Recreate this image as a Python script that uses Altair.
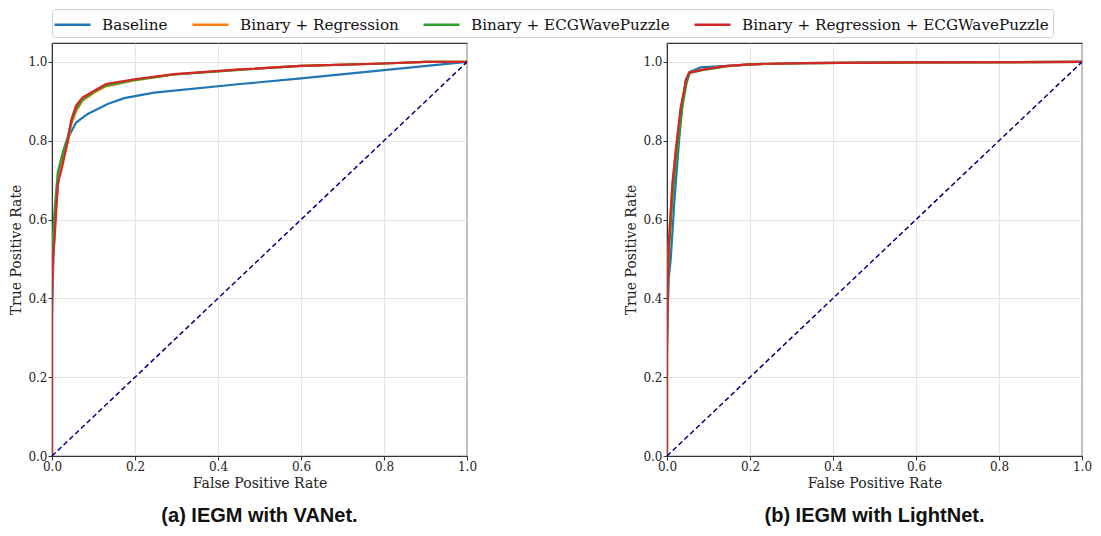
import altair as alt
import pandas as pd

SERIES = ["Baseline", "Binary + Regression", "Binary + ECGWavePuzzle", "Binary + Regression + ECGWavePuzzle"]
COLORS = ["#1f77b4", "#ff7f0e", "#2ca02c", "#d62728"]

# (a) VANet
va_base_fpr = [0, 0.0, 0.002, 0.005, 0.01, 0.018, 0.03, 0.04, 0.058, 0.086, 0.134, 0.174, 0.246, 0.454, 0.6, 0.8, 1.0]
va_base_tpr = [0, 0.35, 0.45, 0.55, 0.64, 0.73, 0.783, 0.81, 0.846, 0.868, 0.893, 0.908, 0.922, 0.944, 0.958, 0.979, 1.0]
va_fpr = [0, 0, 0.002, 0.006, 0.014, 0.026, 0.038, 0.046, 0.058, 0.074, 0.102, 0.13, 0.198, 0.294, 0.454, 0.6, 0.8, 0.9, 1.0]
va_reg_tpr = [0, 0.42, 0.52, 0.60, 0.70, 0.75, 0.795, 0.84, 0.875, 0.902, 0.922, 0.938, 0.953, 0.968, 0.981, 0.99, 0.996, 1.0, 1.0]
va_puz_tpr = [0, 0.45, 0.55, 0.62, 0.72, 0.77, 0.81, 0.845, 0.88, 0.905, 0.925, 0.94, 0.954, 0.968, 0.98, 0.99, 0.996, 1.0, 1.0]
va_all_tpr = [0, 0.40, 0.50, 0.547, 0.69, 0.741, 0.80, 0.851, 0.889, 0.910, 0.927, 0.944, 0.956, 0.969, 0.981, 0.99, 0.996, 1.0, 1.0]

# (b) LightNet
ln_base_fpr = [0, 0, 0.004, 0.009, 0.018, 0.029, 0.038, 0.045, 0.055, 0.081, 0.145, 0.2, 0.33, 0.6, 1.0]
ln_base_tpr = [0, 0.30, 0.45, 0.50, 0.65, 0.80, 0.90, 0.955, 0.975, 0.986, 0.99, 0.994, 0.997, 0.999, 1.0]
ln_puz_fpr = [0, 0, 0.003, 0.006, 0.015, 0.024, 0.036, 0.047, 0.055, 0.09, 0.145, 0.2, 0.33, 0.6, 1.0]
ln_fpr = [0, 0, 0.002, 0.0048, 0.013, 0.021, 0.033, 0.045, 0.053, 0.089, 0.145, 0.201, 0.329, 0.6, 1.0]
ln_reg_tpr = [0, 0.28, 0.46, 0.55, 0.69, 0.77, 0.88, 0.945, 0.972, 0.981, 0.989, 0.994, 0.997, 0.999, 1.0]
ln_puz_tpr = [0, 0.27, 0.45, 0.54, 0.68, 0.77, 0.88, 0.946, 0.972, 0.980, 0.989, 0.994, 0.997, 0.999, 1.0]
ln_all_tpr = [0, 0.25, 0.45, 0.547, 0.69, 0.775, 0.884, 0.948, 0.973, 0.981, 0.990, 0.994, 0.997, 0.999, 1.0]

diag = [0.0, 1.0]


def frame(panel, series, fpr, tpr):
    return pd.DataFrame({"panel": panel, "series": series, "fpr": fpr, "tpr": tpr,
                         "idx": list(range(len(fpr)))})


df = pd.concat([
    frame("a", SERIES[0], va_base_fpr, va_base_tpr),
    frame("a", SERIES[1], va_fpr, va_reg_tpr),
    frame("a", SERIES[2], va_fpr, va_puz_tpr),
    frame("a", SERIES[3], va_fpr, va_all_tpr),
    frame("b", SERIES[0], ln_base_fpr, ln_base_tpr),
    frame("b", SERIES[1], ln_fpr, ln_reg_tpr),
    frame("b", SERIES[2], ln_puz_fpr, ln_puz_tpr),
    frame("b", SERIES[3], ln_fpr, ln_all_tpr),
], ignore_index=True)

diag_df = pd.DataFrame({"fpr": diag, "tpr": diag})

TICKS = [0, 0.2, 0.4, 0.6, 0.8, 1.0]
SERIF = "DejaVu Serif"


def panel(key, caption):
    x = alt.X("fpr:Q", scale=alt.Scale(domain=[0, 1], nice=False),
              axis=alt.Axis(values=TICKS, format=".1f", title="False Positive Rate", labelFlush=False))
    y = alt.Y("tpr:Q", scale=alt.Scale(domain=[0, 1.048], nice=False),
              axis=alt.Axis(values=TICKS, format=".1f", title="True Positive Rate", labelFlush=False))
    layers = []
    for s in SERIES:
        layers.append(
            alt.Chart(df).transform_filter(
                (alt.datum.panel == key) & (alt.datum.series == s)
            ).mark_line(strokeWidth=2.2, clip=True).encode(
                x=x, y=y,
                order=alt.Order("idx:Q"),
                color=alt.Color("series:N", scale=alt.Scale(domain=SERIES, range=COLORS),
                                legend=alt.Legend(title=None, orient="none", direction="horizontal",
                                                  legendX=0, legendY=-34, columns=4,
                                                  symbolType="M-1.3,0L2.3,0", symbolStrokeWidth=2.5,
                                                  symbolSize=400, columnPadding=19,
                                                  labelOffset=23,
                                                  labelFont=SERIF, labelFontSize=15.2,
                                                  labelColor="#111111",
                                                  labelLimit=400,
                                                  strokeColor="#d0d0d0", padding=4,
                                                  cornerRadius=3)),
            )
        )
    d = alt.Chart(diag_df).mark_line(color="#000080", strokeDash=[5, 3], strokeWidth=1.5).encode(x=x, y=y)
    return alt.layer(*layers, d).properties(
        width=415, height=413,
        title=alt.TitleParams(caption, orient="bottom", font="Liberation Sans", fontWeight="bold",
                              fontSize=20, color="#111111", offset=16, anchor="middle"),
    )


chart = alt.hconcat(
    panel("a", "(a) IEGM with VANet."),
    panel("b", "(b) IEGM with LightNet."),
    spacing=146,
).configure_view(
    stroke="#333333", strokeWidth=1.2,
).configure_axis(
    labelFont=SERIF, labelFontSize=12, labelColor="#222222",
    titleFont=SERIF, titleFontSize=14, titleFontWeight="normal", titleColor="#222222",
    gridColor="#dddddd", gridWidth=0.8, domainColor="#333333", tickColor="#333333",
    tickSize=4, labelPadding=1, titlePadding=4,
).properties(
    padding={"left": 1, "top": 0, "right": 0, "bottom": 0},
)

chart.save("out.html", embed_options={"renderer": "svg", "actions": False})
